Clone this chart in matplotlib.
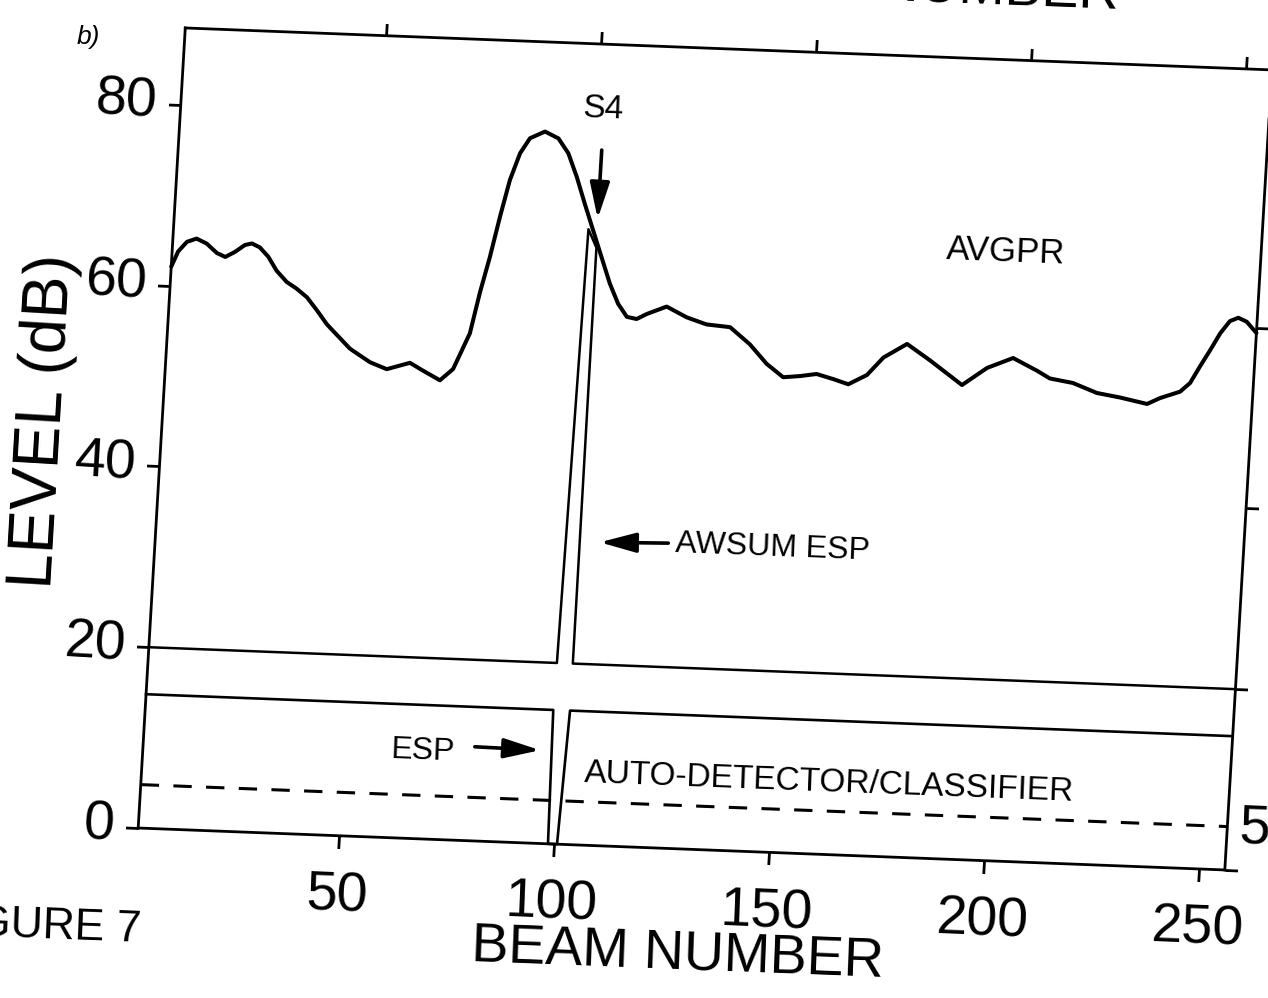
"""
Beam-level plot (FIGURE 7 b): AVGPR, AWSUM ESP, ESP and auto-detector threshold.
The original is a scanned page, tilted/skewed by a couple of degrees, so the
axes are drawn as floating axes with an affine data->pixel transform.
"""

import numpy as np
import matplotlib
matplotlib.use('Agg')
import matplotlib.pyplot as plt
from matplotlib import font_manager
from matplotlib.transforms import Affine2D
from mpl_toolkits.axisartist import floating_axes
from mpl_toolkits.axisartist.grid_finder import FixedLocator, DictFormatter

# ============================================================
# DATA
# ============================================================
beam_avgpr = [3.3, 4.7, 6.6, 8.8, 11.2, 13.7, 15.7, 17.9, 20.1, 21.7,
              23.6, 25.7, 27.8, 30.3, 32.7, 35.2, 37.7, 40.2, 42.6, 45.9,
              50.7, 54.7, 60.0, 63.1, 67.2, 70.1, 73.5, 75.3, 77.1, 78.9,
              80.7, 82.7, 84.8, 88.2, 91.4, 93.9, 96.2, 98.4, 100.7, 103.0,
              105.3, 107.5, 109.7, 112.0, 114.3, 118.8, 123.6, 128.3, 133.8, 138.6,
              142.8, 146.8, 150.7, 154.5, 158.5, 162.0, 166.2, 169.8, 175.1, 180.6,
              188.4, 194.0, 199.9, 205.6, 208.7, 214.1, 219.8, 225.2, 231.6, 234.5,
              239.1, 241.3, 243.4, 245.5, 247.6, 249.7, 251.6, 253.6, 255.2, 256.0]
level_avgpr = [62.1, 63.8, 64.9, 65.3, 64.8, 63.8, 63.4, 64.0, 64.8, 65.0,
               64.6, 63.6, 62.1, 60.9, 60.2, 59.3, 57.9, 56.4, 55.3, 53.8,
               52.4, 51.7, 52.5, 51.7, 50.7, 52.0, 56.0, 60.6, 64.5, 69.0,
               73.1, 76.1, 77.8, 78.6, 77.9, 76.3, 73.7, 70.8, 67.9, 65.0,
               62.1, 59.9, 58.5, 58.3, 58.9, 59.8, 58.7, 58.0, 57.8, 56.0,
               53.9, 52.5, 52.7, 53.0, 52.5, 52.0, 53.1, 55.1, 56.7, 55.0,
               52.4, 54.4, 55.6, 54.3, 53.5, 53.1, 52.1, 51.7, 51.1, 51.8,
               52.6, 53.6, 55.5, 57.3, 59.2, 60.6, 61.0, 60.6, 59.8, 59.4]

beam_awsum = [3.3, 98.2, 99.6, 101.7, 101.9, 256.0]
level_awsum = [20.0, 20.0, 68.0, 66.0, 20.0, 20.0]

beam_esp = [3.3, 98.0, 98.6, 100.7, 101.9, 256.0]
level_esp = [14.8, 14.8, 0.0, 0.0, 14.8, 14.8]

beam_auto = [3.3, 256.0]
level_auto = [4.8, 4.8]

x_ticks = [50, 100, 150, 200, 250]
y_ticks = [0, 20, 40, 60, 80]
XLIM = (3.3, 256.0)
YLIM = (0.0, 88.5)

# ============================================================
# FONTS
# ============================================================
names = {f.name for f in font_manager.fontManager.ttflist}
FONT = 'Liberation Sans' if 'Liberation Sans' in names else 'DejaVu Sans'

# ============================================================
# FIGURE
# ============================================================
W, H = 1268, 998
TILT = -2.2  # degrees, page rotation of the scan

# data (beam, level) -> figure pixels (y up); includes the scan's skew
skew = Affine2D(np.array([[4.3, 0.532, 124.0],
                          [-0.166, 9.04, 170.54],
                          [0.0, 0.0, 1.0]]))

fig = plt.figure(figsize=(W / 100, H / 100), dpi=100)
fig.patch.set_facecolor('white')

helper = floating_axes.GridHelperCurveLinear(
    skew, extremes=(*XLIM, *YLIM),
    grid_locator1=FixedLocator(x_ticks),
    grid_locator2=FixedLocator(y_ticks),
    tick_formatter1=DictFormatter({v: str(v) for v in x_ticks}),
    tick_formatter2=DictFormatter({v: str(v) for v in y_ticks}),
)
ax = fig.add_axes([0, 0, 1, 1], axes_class=floating_axes.FloatingAxes,
                  grid_helper=helper)
ax.set_xlim(0, W)
ax.set_ylim(0, H)

for side in ['left', 'right', 'top', 'bottom']:
    a = ax.axis[side]
    a.line.set_linewidth(2.0)
    a.major_ticks.set_tick_out(True)
    a.major_ticks.set_ticksize(9)
    a.major_ticks.set_markeredgewidth(2.0)
    a.major_ticks.set_linewidth(2.0)

for side, pad in [('left', 8), ('bottom', 17)]:
    tl = ax.axis[side].major_ticklabels
    tl.set_visible(True)
    tl.set_fontsize(40)
    tl.set_fontfamily(FONT)
    tl.set_pad(pad)
for side in ['right', 'top']:
    ax.axis[side].major_ticklabels.set_visible(False)
    ax.axis[side].label.set_visible(False)

ax.axis['left'].label.set_text('LEVEL (dB)')
ax.axis['left'].label.set_visible(True)
ax.axis['left'].label.set_fontsize(46)
ax.axis['left'].label.set_fontfamily(FONT)
ax.axis['left'].label.set_pad(2)

ax.axis['bottom'].label.set_text('BEAM NUMBER')
ax.axis['bottom'].label.set_visible(True)
ax.axis['bottom'].label.set_fontsize(40)
ax.axis['bottom'].label.set_fontfamily(FONT)
ax.axis['bottom'].label.set_pad(3)

aux = ax.get_aux_axes(skew)

aux.plot(beam_avgpr, level_avgpr, color='k', lw=2.9,
         solid_joinstyle='round', solid_capstyle='round', clip_on=False)
aux.plot(beam_awsum, level_awsum, color='k', lw=1.8, clip_on=False)
aux.plot(beam_esp, level_esp, color='k', lw=1.9, clip_on=False)
aux.plot(beam_auto, level_auto, color='k', lw=2.2,
         linestyle=(0, (6.0, 4.7)), clip_on=False)

# annotations
txt = dict(fontfamily=FONT, color='k', rotation=TILT)
arrow = dict(arrowstyle='-|>,head_length=1.1,head_width=0.3', lw=2.6,
             color='k', shrinkA=0, shrinkB=0, mutation_scale=20)

aux.text(101.3, 81.3, 'S4', ha='center', va='center', fontsize=24, **txt)
aux.annotate('', xy=(101.6, 69.2), xytext=(101.6, 76.8), arrowprops=arrow)

aux.text(196.8, 67.3, 'AVGPR', ha='center', va='center', fontsize=25, **txt)

aux.annotate('', xy=(106.5, 33.5), xytext=(122.4, 33.7), arrowprops=arrow)
aux.text(124.0, 33.2, 'AWSUM ESP', ha='left', va='center', fontsize=23, **txt)

aux.text(75.8, 9.8, 'ESP', ha='right', va='center', fontsize=23, **txt)
aux.annotate('', xy=(95.5, 10.3), xytext=(80.3, 10.4), arrowprops=arrow)

aux.text(162.9, 7.9, 'AUTO-DETECTOR/CLASSIFIER', ha='center', va='center',
         fontsize=24, **txt)

aux.text(258.5, 4.6, '5', ha='left', va='center', fontsize=40, **txt)

# page furniture from the scan
fig.text(88 / W, 1 - 37 / H, 'b)', ha='center', va='center',
         fontsize=19, fontstyle='italic', fontfamily=FONT)
fig.text(141 / W, 1 - 930 / H, 'FIGURE 7', ha='right', va='center',
         fontsize=32, fontfamily=FONT, rotation=TILT, rotation_mode='anchor')
fig.text(1118 / W, 1 - 8 / H, 'BEAM NUMBER', ha='right', va='baseline',
         fontsize=40, fontfamily=FONT, rotation=TILT, rotation_mode='anchor')

fig.savefig('out.png', dpi=100, facecolor='white')
plt.close(fig)
